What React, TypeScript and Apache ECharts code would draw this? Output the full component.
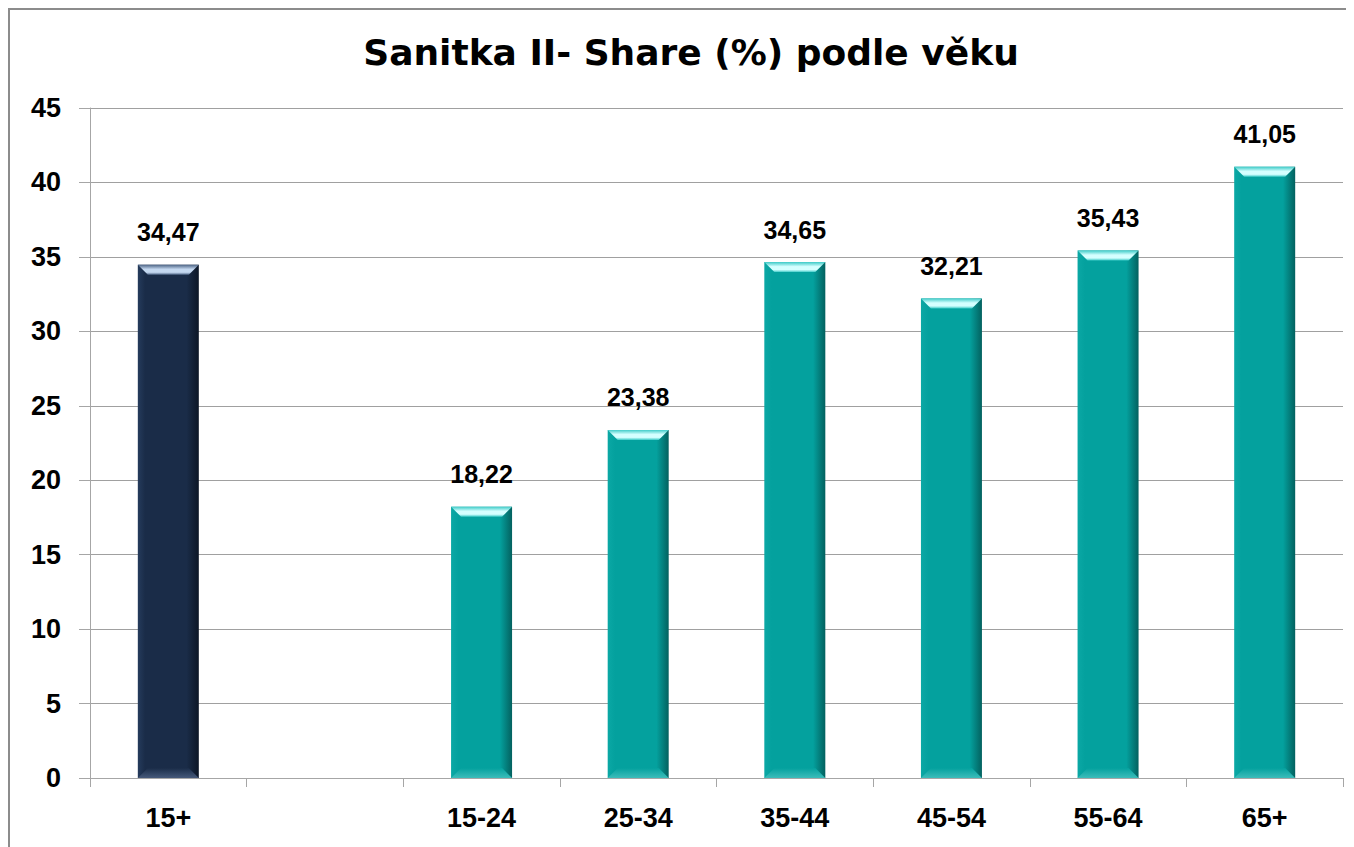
import React, { useEffect, useRef } from "react";
import * as echarts from "echarts";

const chartTitle = "Sanitka II- Share (%) podle věku";
const categories = ["15+", "", "15-24", "25-34", "35-44", "45-54", "55-64", "65+"];
const shareValues: (number | null)[] = [34.47, null, 18.22, 23.38, 34.65, 32.21, 35.43, 41.05];
const yMin = 0;
const yMax = 45;
const yStep = 5;

const NAVY = { left: "#253b5c", mid: "#1a2c48", right: "#0c1626", top: "#4d6485", hi: "#c4d8f0", bottom: "#46597a" };
const TEAL = { left: "#0ba8a5", mid: "#04a19e", right: "#03615f", top: "#3fcbc8", hi: "#d4ffff", bottom: "#3cbdba" };

const fmt = (v: number) => v.toFixed(2).replace(".", ",");

export default function App() {
  const ref = useRef<HTMLDivElement>(null);
  useEffect(() => {
    if (!ref.current) return;
    document.body.style.overflow = "hidden";
    const chart = echarts.init(ref.current, null, { renderer: "svg" });
    const pal = (i: number) => (i === 0 ? NAVY : TEAL);
    const barData = shareValues.map((v, i) => {
      if (v === null) return "-";
      const p = pal(i);
      return {
        value: v,
        itemStyle: {
          color: new echarts.graphic.LinearGradient(0, 0, 1, 0, [
            { offset: 0, color: p.left },
            { offset: 0.12, color: p.mid },
            { offset: 0.8, color: p.mid },
            { offset: 1, color: p.right },
          ]),
        },
      };
    });
    const bevelData = shareValues.map((v, i) => [i, v === null ? NaN : v]);
    chart.setOption({
      animation: false,
      backgroundColor: "#ffffff",
      graphic: [
        {
          type: "text",
          x: 681,
          y: 42,
          style: {
            text: chartTitle,
            textAlign: "center",
            textVerticalAlign: "middle",
            fontFamily: "DejaVu Sans",
            fontWeight: "bold",
            fontSize: 36,
            fill: "#000",
          },
        },
      ],
      grid: { left: 80, right: 11, top: 98, bottom: 69, containLabel: false },
      xAxis: {
        type: "category",
        data: categories,
        axisLine: { lineStyle: { color: "#a6a6a6", width: 1 } },
        axisTick: { show: true, length: 9, alignWithLabel: false, lineStyle: { color: "#a6a6a6" } },
        axisLabel: {
          interval: 0,
          margin: 26,
          color: "#000",
          fontFamily: "Liberation Sans",
          fontWeight: "bold",
          fontSize: 27,
        },
      },
      yAxis: {
        type: "value",
        min: yMin,
        max: yMax,
        interval: yStep,
        axisLine: { show: true, lineStyle: { color: "#a6a6a6", width: 1 } },
        axisTick: { show: true, length: 11, lineStyle: { color: "#a6a6a6" } },
        splitLine: { lineStyle: { color: "#a0a0a0", width: 1 } },
        axisLabel: {
          margin: 29,
          color: "#000",
          fontFamily: "Liberation Sans",
          fontWeight: "bold",
          fontSize: 27,
        },
      },
      series: [
        {
          type: "bar",
          data: barData,
          barWidth: 61,
          label: {
            show: true,
            position: "top",
            distance: 20,
            color: "#000",
            fontFamily: "Liberation Sans",
            fontWeight: "bold",
            fontSize: 25,
            formatter: (p: any) => fmt(p.value),
          },
        },
        {
          type: "custom",
          data: bevelData,
          silent: true,
          z: 3,
          renderItem: (params: any, api: any) => {
            const idx = api.value(0);
            const val = api.value(1);
            if (isNaN(val)) return null;
            const p = pal(idx);
            const top = api.coord([idx, val]);
            const base = api.coord([idx, 0]);
            const w = 61;
            const x0 = top[0] - w / 2;
            const x1 = top[0] + w / 2;
            const y0 = top[1];
            const y1 = base[1];
            const b = 10;
            return {
              type: "group",
              children: [
                {
                  type: "polygon",
                  shape: { points: [[x0, y0], [x1, y0], [x1 - b, y0 + b], [x0 + b, y0 + b]] },
                  style: {
                    fill: new echarts.graphic.LinearGradient(0, 0, 0, 1, [
                      { offset: 0, color: p.top },
                      { offset: 0.45, color: p.hi },
                      { offset: 0.75, color: p.hi },
                      { offset: 1, color: p.top },
                    ]),
                  },
                },
                {
                  type: "polygon",
                  shape: { points: [[x0, y1], [x1, y1], [x1 - b, y1 - b], [x0 + b, y1 - b]] },
                  style: {
                    fill: new echarts.graphic.LinearGradient(0, 0, 0, 1, [
                      { offset: 0, color: p.mid },
                      { offset: 1, color: p.bottom },
                    ]),
                  },
                },
              ],
            };
          },
        },
      ],
    });
    return () => chart.dispose();
  }, []);
  return (
    <div
      ref={ref}
      style={{
        width: 1344,
        height: 837,
        borderTop: "2px solid #8c8c8c",
        borderLeft: "2px solid #8c8c8c",
        background: "#fff",
      }}
    />
  );
}
